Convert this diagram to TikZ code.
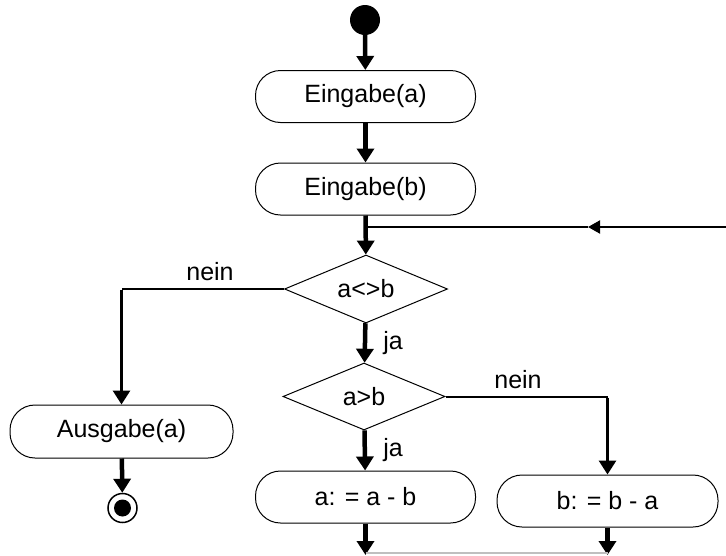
\documentclass[tikz,border=0pt]{standalone}
\usepackage{fontspec}
\setmainfont{Liberation Sans}
\usetikzlibrary{shapes.geometric,arrows.meta}
\begin{document}
\begin{tikzpicture}[x=1pt,y=-1pt,
  font=\fontsize{25}{29}\selectfont,
  actbox/.style={draw,line width=1pt,rounded corners=25pt,minimum height=52pt,inner sep=0pt},
  decbox/.style={draw,line width=1pt,diamond,aspect=2.4,inner sep=0pt},
  mainflow/.style={line width=4.5pt,-{Triangle[width=17pt,length=14pt]}},
  sideflow/.style={line width=3pt,-{Triangle[width=17pt,length=14pt]}},
  thinline/.style={line width=2pt},
  lbl/.style={inner sep=0pt}
]
\useasboundingbox (0,0) rectangle (726,555);
\fill[white] (0,0) rectangle (726,555);

\node[circle,fill=black,minimum size=30pt,inner sep=0pt] (start) at (365,20) {};
\node[actbox,minimum width=220pt] (ea) at (365.5,96.5) {Eingabe(a)};
\node[actbox,minimum width=220pt] (eb) at (365.5,189) {Eingabe(b)};
\coordinate (j) at (366,227);
\coordinate (r) at (726,227);
\coordinate (m) at (588,227);
\node[decbox,minimum width=163pt,minimum height=68pt] (d1) at (366,289) {a<>b};
\node[decbox,minimum width=162pt,minimum height=67pt] (d2) at (364,396.5) {a>b};
\node[actbox,minimum width=223pt,minimum height=53pt] (ausg) at (121.5,431.5) {Ausgabe(a)};
\node[circle,draw,line width=1.5pt,minimum size=29pt,inner sep=0pt] (endc) at (122.5,508) {};
\node[circle,fill=black,minimum size=17pt,inner sep=0pt] (endin) at (endc.center) {};
\node[actbox,minimum width=220pt] (s1) at (365.5,497) {a: = a - b};
\node[actbox,minimum width=221pt] (s2) at (607.5,501) {b: = b - a};
\coordinate (b1) at (s1.south |- 0,555);
\coordinate (b2) at (s2.south |- 0,555);
\coordinate (k1) at (ausg.north |- d1.west);
\coordinate (k2) at (s2.north |- d2.east);

\draw[mainflow] (start) -- (ea);
\draw[mainflow] (ea) -- (eb);
\draw[mainflow] (eb) -- (d1);
\draw[thinline,-{Triangle[width=13pt,length=12pt]}] (r) -- (m);
\draw[thinline] (m) -- (j);
\draw[thinline] (d1.west) -- (k1);
\draw[sideflow] ([yshift=-1pt]k1) -- (ausg.north);
\draw[mainflow] (ausg) -- (endc);
\draw[mainflow] (d1) -- (d2);
\draw[thinline] (d2.east) -- (k2);
\draw[sideflow] ([yshift=-1pt]k2) -- (s2.north);
\draw[mainflow] (d2) -- (s1);
\draw[mainflow] (s1) -- (b1);
\draw[mainflow] (s2) -- (b2);
\draw[line width=1.2pt,black!25] ([yshift=2pt]b1) -- ([yshift=2pt]b2);

\node[lbl] (n1) at (210,272) {nein};
\node[lbl] (j1) at (393,343) {ja};
\node[lbl] (n2) at (518,380) {nein};
\node[lbl] (j2) at (393,450) {ja};
\end{tikzpicture}
\end{document}
